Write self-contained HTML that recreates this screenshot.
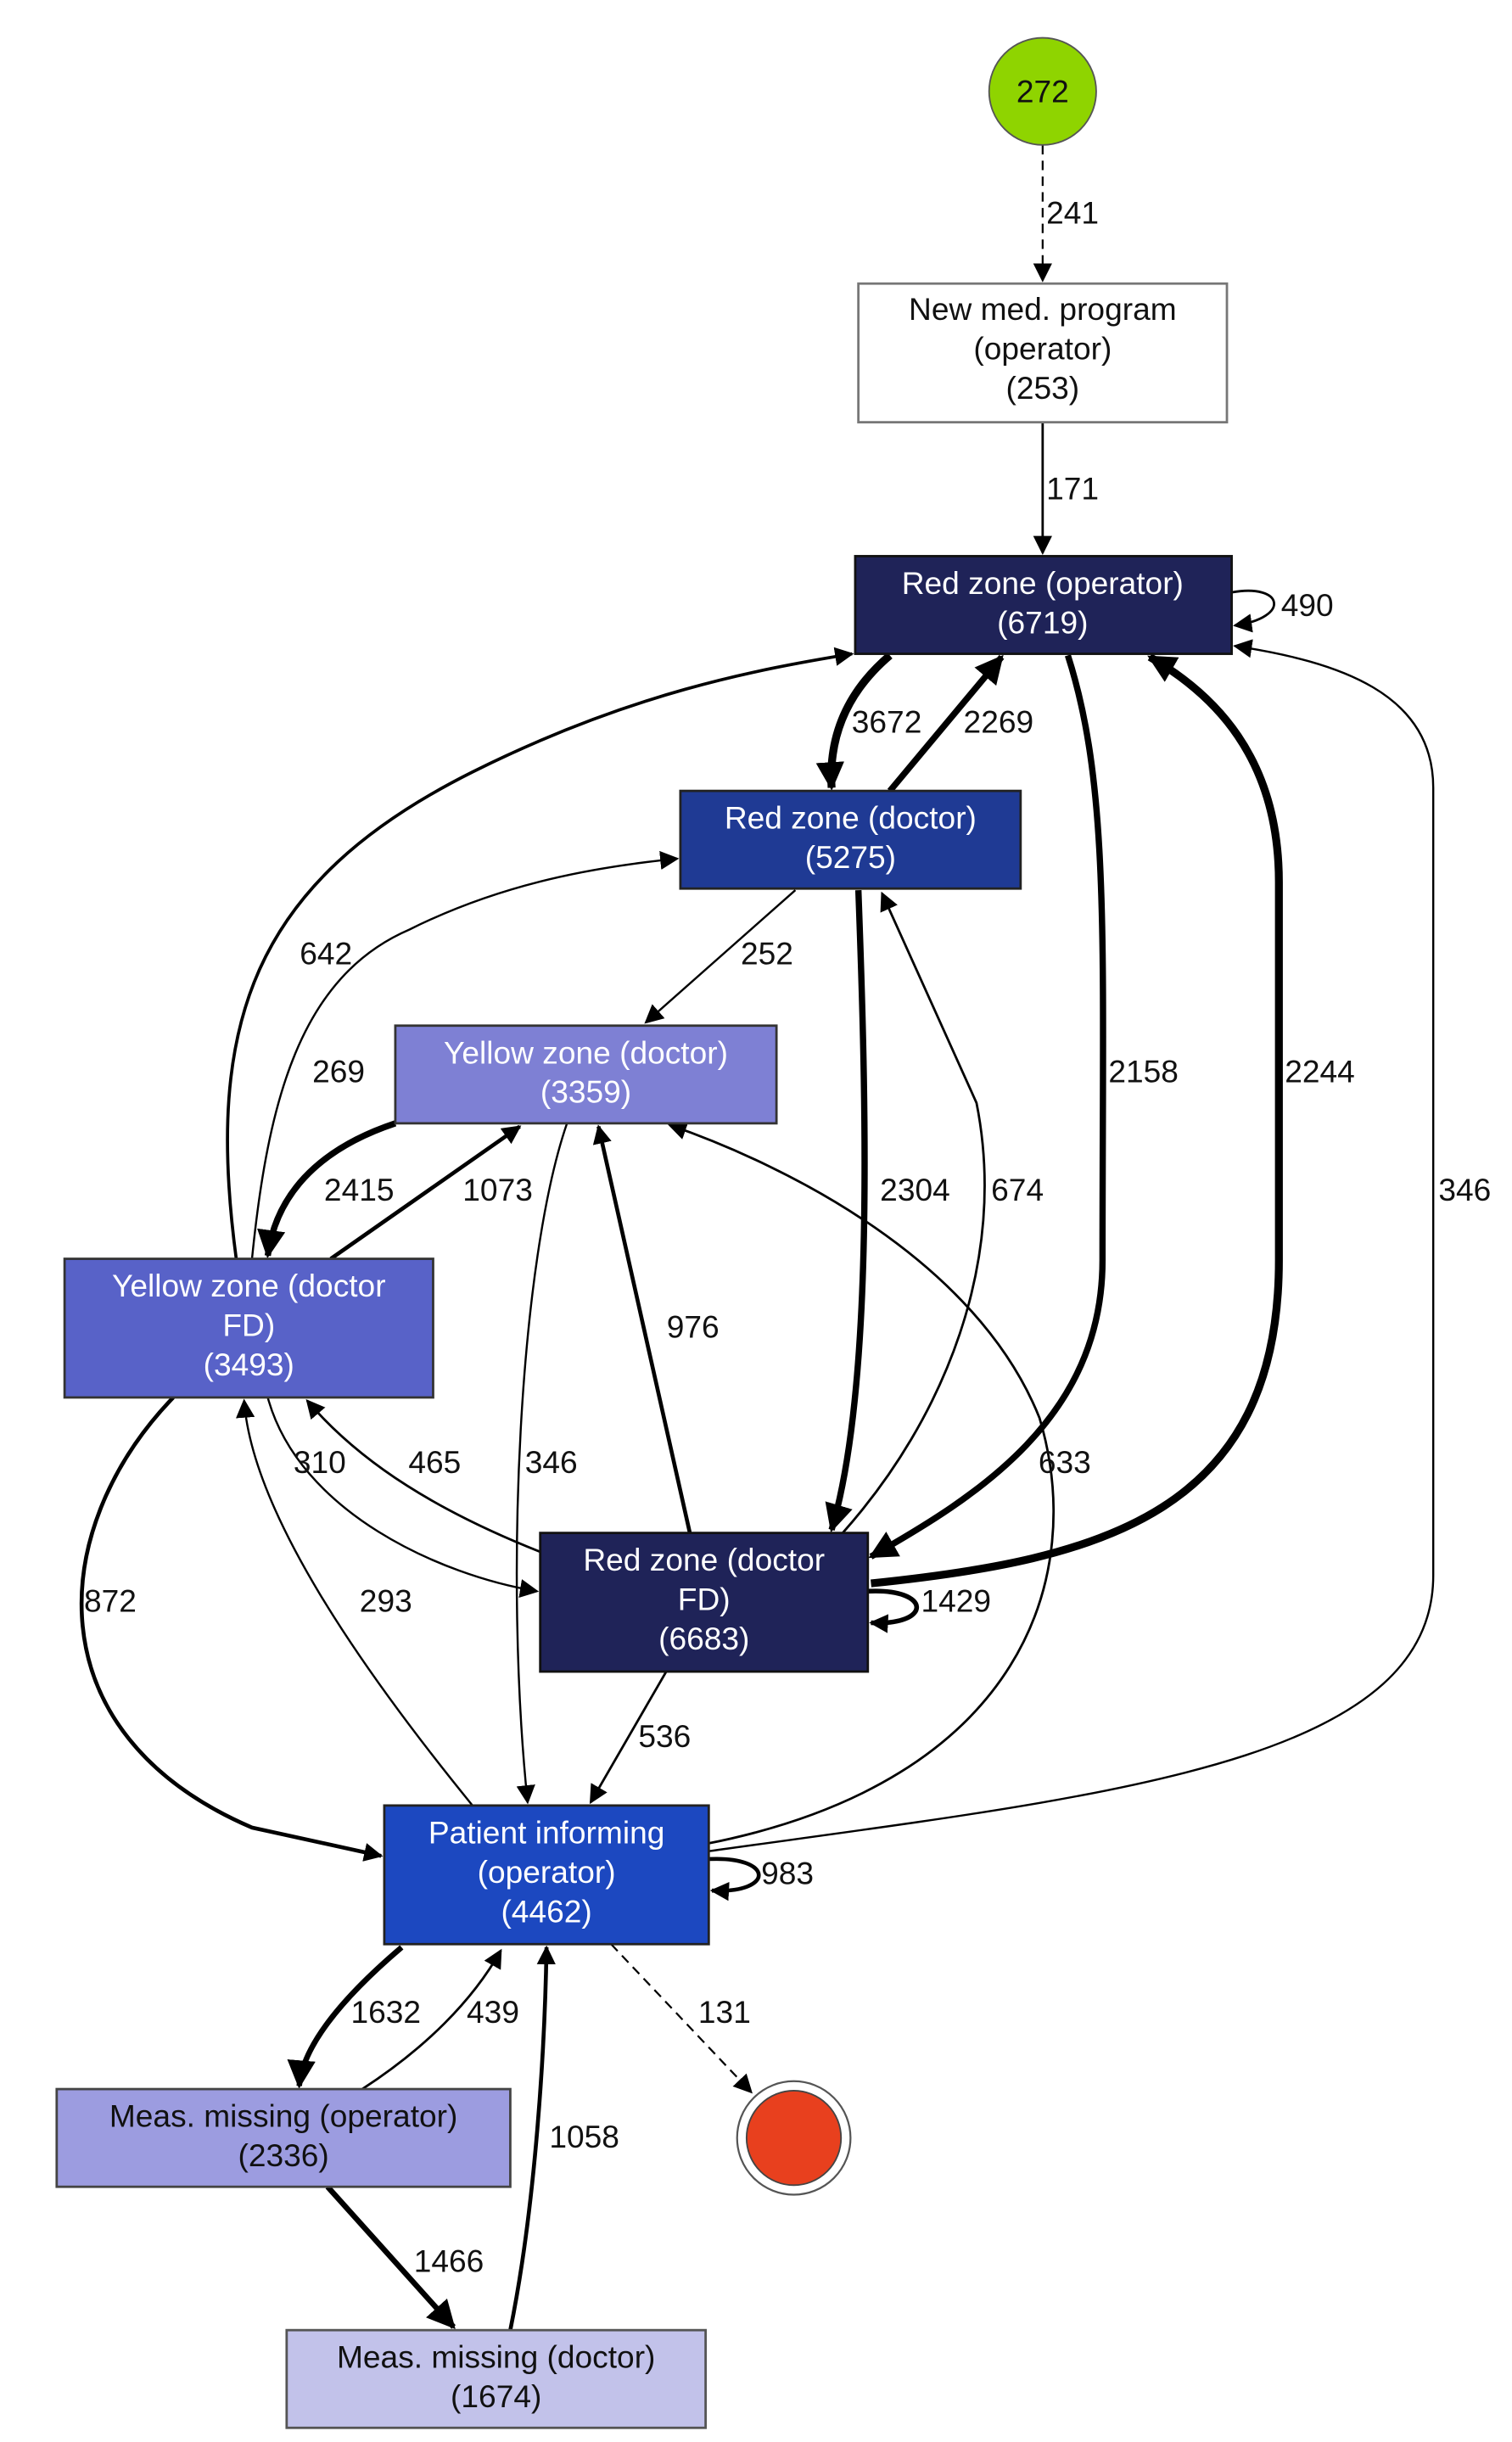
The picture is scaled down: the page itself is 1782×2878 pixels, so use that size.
<!DOCTYPE html>
<html><head><meta charset="utf-8"><style>
html,body{margin:0;padding:0;background:#fff;}
svg{display:block;}
text{font-family:"Liberation Sans","DejaVu Sans",sans-serif;}
.n{font-size:20px;fill:#fff;text-anchor:middle;}
.nb{font-size:20px;fill:#111;text-anchor:middle;}
.l{font-size:20px;fill:#111;text-anchor:middle;}
.e{fill:none;stroke:#000;}
</style></head><body>
<svg width="1782" height="2878" viewBox="0 0 960 1550" preserveAspectRatio="none" xmlns="http://www.w3.org/2000/svg">
<defs>
<marker id="a" viewBox="0 0 10 10" refX="9" refY="5" markerWidth="12" markerHeight="12" markerUnits="userSpaceOnUse" orient="auto"><path d="M0,0 L10,5 L0,10 z" fill="#000"/></marker>
<marker id="b" viewBox="0 0 10 10" refX="9" refY="5" markerWidth="18" markerHeight="18" markerUnits="userSpaceOnUse" orient="auto"><path d="M0,0 L10,5 L0,10 z" fill="#000"/></marker>
</defs>
<rect width="960" height="1550" fill="#fff"/>

<!-- edges -->
<path class="e" d="M662,92 L662,178" stroke-width="1.2" stroke-dasharray="6,4" marker-end="url(#a)"/>
<path class="e" d="M662,268 L662,351" stroke-width="1.5" marker-end="url(#a)"/>
<path class="e" d="M782,376 C815,370 820,392 784,397" stroke-width="1.5" marker-end="url(#a)"/>
<path class="e" d="M565,416 Q525,450 528,500" stroke-width="5" marker-end="url(#b)"/>
<path class="e" d="M565,502 L636,417" stroke-width="4" marker-end="url(#b)"/>
<path class="e" d="M678,416 C705,500 700,600 700,800 C700,900 620,950 553,988" stroke-width="4" marker-end="url(#b)"/>
<path class="e" d="M553,1005 C700,990 812,960 812,800 L812,560 C812,480 770,440 730,417" stroke-width="5" marker-end="url(#b)"/>
<path class="e" d="M450,1175 C700,1140 910,1120 910,1000 L910,500 C910,440 850,420 784,410" stroke-width="1.3" marker-end="url(#a)"/>
<path class="e" d="M150,799 C130,650 160,560 300,490 C400,440 480,425 541,415" stroke-width="2" marker-end="url(#a)"/>
<path class="e" d="M160,799 C170,700 190,620 260,590 C320,560 380,550 430,545" stroke-width="1.3" marker-end="url(#a)"/>
<path class="e" d="M505,565 L410,649" stroke-width="1.3" marker-end="url(#a)"/>
<path class="e" d="M251,713 C200,730 175,760 170,797" stroke-width="4" marker-end="url(#b)"/>
<path class="e" d="M210,799 L330,715" stroke-width="2.5" marker-end="url(#a)"/>
<path class="e" d="M545,565 C550,700 555,880 528,971" stroke-width="4" marker-end="url(#b)"/>
<path class="e" d="M535,973 C600,900 640,800 620,700 L560,567" stroke-width="1.5" marker-end="url(#a)"/>
<path class="e" d="M438,973 L380,715" stroke-width="2.5" marker-end="url(#a)"/>
<path class="e" d="M450,1170 C650,1130 690,1000 660,900 C620,800 500,740 425,714" stroke-width="1.5" marker-end="url(#a)"/>
<path class="e" d="M360,713 C330,800 320,1000 335,1144" stroke-width="1.3" marker-end="url(#a)"/>
<path class="e" d="M343,985 C280,960 230,930 195,889" stroke-width="1.5" marker-end="url(#a)"/>
<path class="e" d="M170,887 C190,960 280,1000 341,1010" stroke-width="1.3" marker-end="url(#a)"/>
<path class="e" d="M110,887 C30,970 20,1100 160,1160 L242,1178" stroke-width="2.5" marker-end="url(#a)"/>
<path class="e" d="M300,1146 C230,1060 160,960 155,889" stroke-width="1.3" marker-end="url(#a)"/>
<path class="e" d="M551,1010 C592,1008 592,1032 553,1030" stroke-width="3" marker-end="url(#a)"/>
<path class="e" d="M423,1061 L375,1144" stroke-width="1.5" marker-end="url(#a)"/>
<path class="e" d="M450,1180 C492,1178 492,1202 452,1200" stroke-width="2.5" marker-end="url(#a)"/>
<path class="e" d="M388,1234 L477,1328" stroke-width="1.2" stroke-dasharray="6,4" marker-end="url(#a)"/>
<path class="e" d="M255,1236 C215,1270 192,1300 190,1324" stroke-width="3.5" marker-end="url(#b)"/>
<path class="e" d="M230,1326 C270,1300 300,1270 318,1238" stroke-width="1.5" marker-end="url(#a)"/>
<path class="e" d="M208,1388 L288,1477" stroke-width="3.5" marker-end="url(#b)"/>
<path class="e" d="M324,1479 C340,1400 346,1300 347,1236" stroke-width="2.5" marker-end="url(#a)"/>

<!-- labels -->
<g class="l">
<text x="681" y="142">241</text>
<text x="681" y="317">171</text>
<text x="830" y="391">490</text>
<text x="563" y="465">3672</text>
<text x="634" y="465">2269</text>
<text x="726" y="687">2158</text>
<text x="838" y="687">2244</text>
<text x="930" y="762">346</text>
<text x="207" y="612">642</text>
<text x="215" y="687">269</text>
<text x="487" y="612">252</text>
<text x="228" y="762">2415</text>
<text x="316" y="762">1073</text>
<text x="581" y="762">2304</text>
<text x="646" y="762">674</text>
<text x="440" y="849">976</text>
<text x="676" y="935">633</text>
<text x="350" y="935">346</text>
<text x="276" y="935">465</text>
<text x="203" y="935">310</text>
<text x="70" y="1023">872</text>
<text x="245" y="1023">293</text>
<text x="607" y="1023">1429</text>
<text x="422" y="1109">536</text>
<text x="500" y="1196">983</text>
<text x="460" y="1284">131</text>
<text x="245" y="1284">1632</text>
<text x="313" y="1284">439</text>
<text x="285" y="1442">1466</text>
<text x="371" y="1363">1058</text>
</g>

<!-- nodes -->
<circle cx="662" cy="58" r="34" fill="#8fd400" stroke="#555" stroke-width="1"/>
<text class="nb" x="662" y="65">272</text>

<rect x="545" y="180" width="234" height="88" fill="#fff" stroke="#777" stroke-width="1.5"/>
<text class="nb" x="662" y="203">New med. program</text>
<text class="nb" x="662" y="228">(operator)</text>
<text class="nb" x="662" y="253">(253)</text>

<rect x="543" y="353" width="239" height="62" fill="#1f2358" stroke="#111" stroke-width="1.5"/>
<text class="n" x="662" y="377">Red zone (operator)</text>
<text class="n" x="662" y="402">(6719)</text>

<rect x="432" y="502" width="216" height="62" fill="#1f3a94" stroke="#222" stroke-width="1.5"/>
<text class="n" x="540" y="526">Red zone (doctor)</text>
<text class="n" x="540" y="551">(5275)</text>

<rect x="251" y="651" width="242" height="62" fill="#7e80d4" stroke="#333" stroke-width="1.5"/>
<text class="n" x="372" y="675">Yellow zone (doctor)</text>
<text class="n" x="372" y="700">(3359)</text>

<rect x="41" y="799" width="234" height="88" fill="#5862c8" stroke="#333" stroke-width="1.5"/>
<text class="n" x="158" y="823">Yellow zone (doctor</text>
<text class="n" x="158" y="848">FD)</text>
<text class="n" x="158" y="873">(3493)</text>

<rect x="343" y="973" width="208" height="88" fill="#1f2358" stroke="#111" stroke-width="1.5"/>
<text class="n" x="447" y="997">Red zone (doctor</text>
<text class="n" x="447" y="1022">FD)</text>
<text class="n" x="447" y="1047">(6683)</text>

<rect x="244" y="1146" width="206" height="88" fill="#1c48c0" stroke="#222" stroke-width="1.5"/>
<text class="n" x="347" y="1170">Patient informing</text>
<text class="n" x="347" y="1195">(operator)</text>
<text class="n" x="347" y="1220">(4462)</text>

<rect x="36" y="1326" width="288" height="62" fill="#9c9ce0" stroke="#444" stroke-width="1.5"/>
<text class="nb" x="180" y="1350">Meas. missing (operator)</text>
<text class="nb" x="180" y="1375">(2336)</text>

<rect x="182" y="1479" width="266" height="62" fill="#c2c2ea" stroke="#555" stroke-width="1.5"/>
<text class="nb" x="315" y="1503">Meas. missing (doctor)</text>
<text class="nb" x="315" y="1528">(1674)</text>

<circle cx="504" cy="1357" r="36" fill="#fff" stroke="#555" stroke-width="1.2"/>
<circle cx="504" cy="1357" r="30" fill="#e8401e" stroke="#444" stroke-width="1"/>
</svg>
</body></html>
